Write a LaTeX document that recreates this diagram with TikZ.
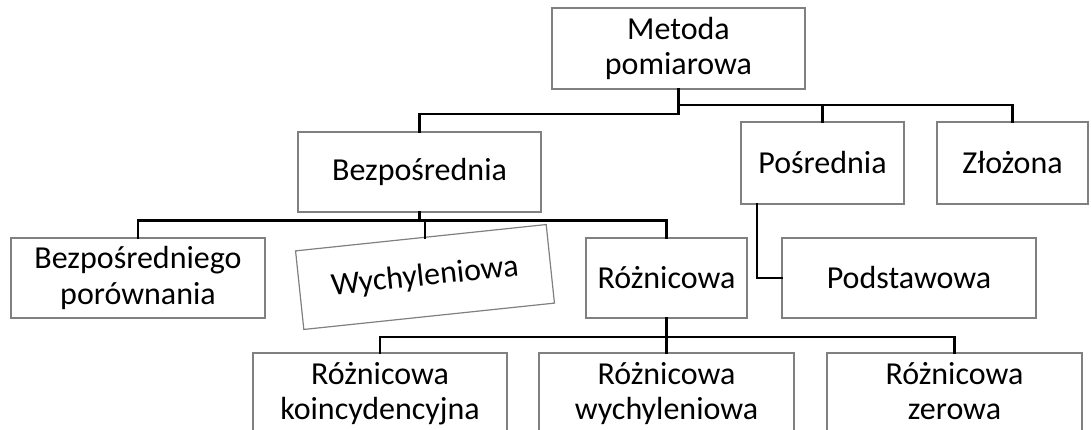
\documentclass[tikz,border=0pt]{standalone}
\usepackage{fontspec}
\setmainfont{Carlito}
\usepackage{tikz}

\begin{document}
\begin{tikzpicture}[x=1pt,y=-1pt]

% Kolory
\definecolor{ramka}{HTML}{808080}
\definecolor{linia}{HTML}{000000}

% Style
\tikzset{
  box/.style={draw=ramka, line width=1.2pt, fill=white, inner sep=0pt, outer sep=0pt,
    align=center, font=\fontsize{32}{35.5}\selectfont, minimum height=80},
  conn/.style={draw=linia, line width=2.6pt, line cap=rect}
}

% Obszar rysunku
\clip (0,0) rectangle (1091,430);

% Poziom 0
\node[box, minimum width=253, minimum height=81] (metoda) at (678.5,48.5) {Metoda\\pomiarowa};

% Poziom 1
\node[box, minimum width=243] (bezp) at (419.5,172) {Bezpośrednia};
\node[box, minimum width=163, minimum height=82] (posr) at (822.5,163) {Pośrednia};
\node[box, minimum width=151, minimum height=82] (zloz) at (1012.5,163) {Złożona};

% Poziom 2
\node[box, minimum width=254] (bezpp) at (138,278) {Bezpośredniego\\porównania};
\node[box, minimum width=252, minimum height=79, rotate=6] (wych) at (425,277) {Wychyleniowa};
\node[box, minimum width=161] (rozn) at (666.5,278) {Różnicowa};
\node[box, minimum width=254] (podst) at (909,278) {Podstawowa};

% Poziom 3
\node[box, minimum width=254, minimum height=81] (rk) at (380,393.5) {Różnicowa\\koincydencyjna};
\node[box, minimum width=255, minimum height=81] (rw) at (666.5,393.5) {Różnicowa\\wychyleniowa};
\node[box, minimum width=255, minimum height=81] (rz) at (954.5,393.5) {Różnicowa\\zerowa\vphantom{y}};

% Połączenia
\draw[conn] (metoda.south) -- ++(0,25) -| (bezp.north);
\draw[conn] (metoda.south) ++(0,16) -| (posr.north);
\draw[conn] (metoda.south) ++(0,16) -| (zloz.north);

\coordinate (lvl2) at (0,220.5);
\draw[conn] (bezp.south) -- ++(0,8.5) -| (bezpp.north);
\draw[conn] (bezp.south) ++(0,8.5) -| (rozn.north);
\draw[conn] (wych.84 |- lvl2) -- (wych.84);

\draw[conn] (posr.south west) ++(16,0) |- (podst.west);

\draw[conn] (rozn.south) -- ++(0,19) -| (rk.north);
\draw[conn] (rozn.south) ++(0,19) -| (rz.north);
\draw[conn] (rozn.south) -- (rw.north);

\end{tikzpicture}
\end{document}
